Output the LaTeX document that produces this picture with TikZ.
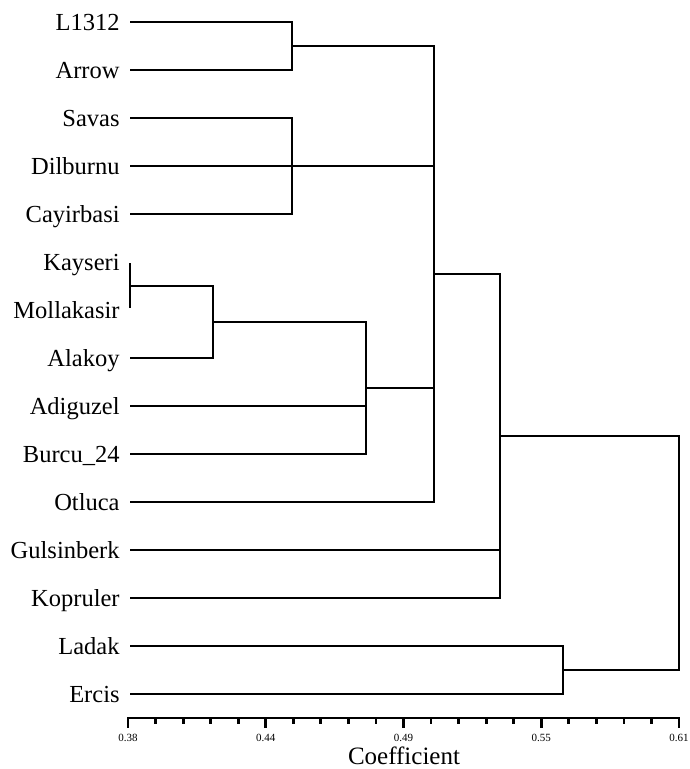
\documentclass[tikz,border=0pt]{standalone}
\usepackage{fontspec}
\setmainfont{Liberation Serif}
\begin{document}
\begin{tikzpicture}[x=1pt,y=-1pt,line width=2.8pt,line join=miter,
  lab/.style={anchor=east,font=\fontsize{24.5}{28}\selectfont,inner sep=0pt,text height=16.5pt,text depth=0pt},
  ticklab/.style={font=\fontsize{11}{12}\selectfont,inner sep=0pt,anchor=center},
  axtitle/.style={font=\fontsize{25}{28}\selectfont,inner sep=0pt,anchor=center}]
\useasboundingbox (0,0) rectangle (690,769);
\foreach \n/\t [count=\i from 0] in {l1312/L1312,arrow/Arrow,savas/Savas,dilburnu/Dilburnu,cayirbasi/Cayirbasi,kayseri/Kayseri,mollakasir/Mollakasir,alakoy/Alakoy,adiguzel/Adiguzel,burcu/Burcu\_24,otluca/Otluca,gulsinberk/Gulsinberk,kopruler/Kopruler,ladak/Ladak,ercis/Ercis}{
  \coordinate (\n) at (130,22+48*\i);
  \node[lab] (\n-lab) at (121,22+48*\i) {\t};
}
\coordinate (n1) at (292,46);
\coordinate (n2) at (292,166);
\coordinate (n3) at (130,286);
\coordinate (n4) at (213,322);
\coordinate (n5) at (434,274);
\coordinate (n6) at (366,388);
\coordinate (n7) at (500,436);
\coordinate (n8) at (563,670);
\coordinate (n9) at (679,553);
% clusters
\draw (l1312) -| (n1) |- (arrow);
\draw (savas) -| (n2) |- (cayirbasi);
\draw (dilburnu) -- (dilburnu -| n5);
\draw ([yshift=-1pt]kayseri) -- ([yshift=2pt]mollakasir);
\draw (n3) -| (n4) |- (alakoy);
\draw (n4) -| (n6) |- (burcu);
\draw (adiguzel) -- (adiguzel -| n6);
\draw (n6) -- (n6 -| n5);
\draw (n1) -| (n5) |- (otluca);
\draw (n5) -| (n7) |- (kopruler);
\draw (gulsinberk) -- (gulsinberk -| n7);
\draw (ladak) -| (n8) |- (ercis);
\draw (n7) -| (n9) |- (n8);
% axis
\coordinate (ax0) at (128,718);
\coordinate (ax1) at (679,718);
\draw (ax0) -- (ax1);
\foreach \k in {0,...,20}{
  \pgfmathsetmacro{\xx}{128+27.55*\k}
  \pgfmathtruncatemacro{\mm}{mod(\k,5)}
  \ifnum\mm=0
    \draw (\xx,717) -- (\xx,728);
  \else
    \draw (\xx,717) -- (\xx,724);
  \fi
}
\foreach \v [count=\j from 0] in {0.38,0.44,0.49,0.55,0.61}{
  \node[ticklab] (tl\j) at (128+137.75*\j,738) {\v};
}
\node[axtitle] (axt) at (404,756) {Coefficient};
\end{tikzpicture}
\end{document}
